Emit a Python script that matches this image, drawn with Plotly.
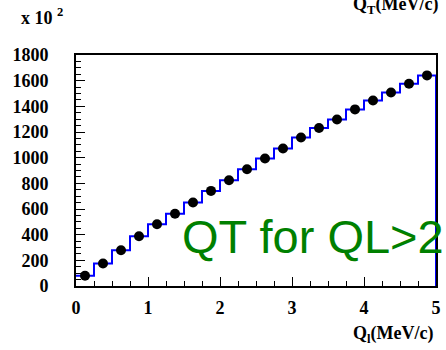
import plotly.graph_objects as go

# Data
bin_width = 0.25
bin_centers = [0.125, 0.375, 0.625, 0.875, 1.125, 1.375, 1.625, 1.875, 2.125, 2.375,
               2.625, 2.875, 3.125, 3.375, 3.625, 3.875, 4.125, 4.375, 4.625, 4.875]
hist_values = [80, 175, 279, 388, 481, 563, 650, 741, 824, 910,
               994, 1072, 1157, 1231, 1298, 1376, 1446, 1508, 1576, 1641]
point_values = [80, 175, 279, 388, 481, 563, 650, 741, 824, 910,
                994, 1072, 1157, 1231, 1298, 1376, 1446, 1508, 1576, 1641]
y_ticks = [0, 200, 400, 600, 800, 1000, 1200, 1400, 1600, 1800]
x_ticks = [0, 1, 2, 3, 4, 5]

# step outline of histogram
step_x = [c - bin_width / 2 for c in bin_centers] + [bin_centers[-1] + bin_width / 2] * 2
step_y = hist_values + [hist_values[-1], 0]

fig = go.Figure()
fig.add_trace(go.Scatter(x=step_x, y=step_y, mode="lines", line_shape="hv",
                         line=dict(color="#0000ff", width=2), cliponaxis=False,
                         hoverinfo="skip"))
fig.add_trace(go.Scatter(x=bin_centers, y=point_values, mode="markers",
                         marker=dict(color="black", size=10), cliponaxis=False))

serif = dict(family="Liberation Serif", size=18, color="black", weight="bold")

fig.update_layout(
    width=446, height=350,
    margin=dict(l=76, r=5, t=55, b=64),
    paper_bgcolor="white", plot_bgcolor="white",
    showlegend=False,
    xaxis=dict(range=[0, 5], tickvals=x_ticks, ticks="inside", ticklen=9,
               tickwidth=1, tickcolor="black", showgrid=False, zeroline=False,
               showline=True, linecolor="black", linewidth=2, mirror=True,
               layer="below traces", tickfont=serif, ticklabelstandoff=4,
               minor=dict(dtick=0.25, ticks="inside", ticklen=5, tickcolor="black",
                          tickwidth=1, showgrid=False)),
    yaxis=dict(range=[0, 1800], tickvals=y_ticks, ticks="inside", ticklen=9,
               tickwidth=1, tickcolor="black", showgrid=False, zeroline=False,
               showline=True, linecolor="black", linewidth=2, mirror=True,
               layer="below traces", tickfont=serif, ticklabelstandoff=22,
               minor=dict(dtick=50, ticks="inside", ticklen=5, tickcolor="black",
                          tickwidth=1, showgrid=False)),
    annotations=[
        dict(text="x 10 <sup>2</sup>", xref="paper", yref="paper", x=-0.159, y=1.165,
             xanchor="left", yanchor="middle", showarrow=False, font=serif),
        dict(text="Q<sub>T</sub>(MeV/c)", xref="paper", yref="paper", x=1.01, y=1.215,
             xanchor="right", yanchor="middle", showarrow=False, font=serif),
        dict(text="Q<sub>l</sub>(MeV/c)", xref="paper", yref="paper", x=0.997, y=-0.212,
             xanchor="right", yanchor="middle", showarrow=False, font=serif),
        dict(text="QT for QL>2", xref="paper", yref="paper", x=0.29, y=0.215,
             xanchor="left", yanchor="middle", showarrow=False,
             font=dict(family="Liberation Sans", size=47, color="#008000")),
    ],
)

fig.write_html("out.html")
